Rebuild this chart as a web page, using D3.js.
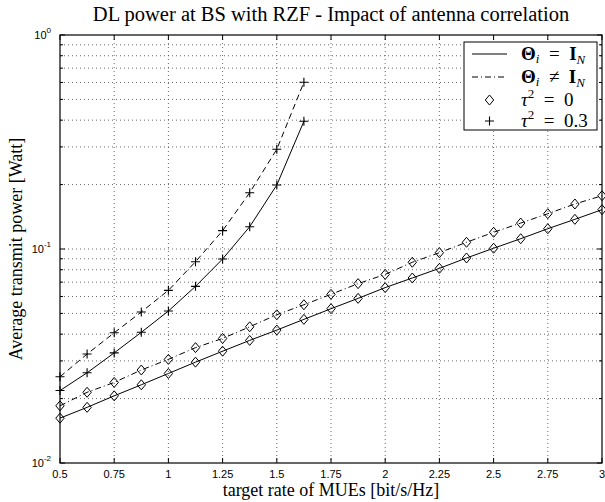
<!DOCTYPE html>
<html>
<head>
<meta charset="utf-8">
<script src="https://d3js.org/d3.v7.min.js"></script>
<style>
 body { margin: 0; background: #fff; }
 .tick-lbl { font-family: "Liberation Sans", Arial, sans-serif; font-size: 11px; fill: #000; }
 .serif { font-family: "Liberation Serif", "Times New Roman", serif; fill: #000; }
 .grid line { stroke: #444; stroke-width: 0.8; stroke-dasharray: 1,3; }
</style>
</head>
<body>
<script>
// target rates
var ratesAll = [0.5, 0.625, 0.75, 0.875, 1, 1.125, 1.25, 1.375, 1.5, 1.625, 1.75, 1.875,
                2, 2.125, 2.25, 2.375, 2.5, 2.625, 2.75, 2.875, 3];
var ratesShort = [0.5, 0.625, 0.75, 0.875, 1, 1.125, 1.25, 1.375, 1.5, 1.625];

// tau^2 = 0
var tau0Ident = [0.0162, 0.0182, 0.0206, 0.0232, 0.0262, 0.0296, 0.0333, 0.0374, 0.0418, 0.0469,
                 0.0526, 0.0588, 0.0660, 0.0732, 0.0812, 0.0908, 0.1008, 0.1117, 0.1244, 0.1376, 0.1527];
var tau0Corr  = [0.0185, 0.0214, 0.0238, 0.0272, 0.0305, 0.0346, 0.0382, 0.0433, 0.0493, 0.0549,
                 0.0614, 0.0689, 0.0761, 0.0867, 0.0961, 0.1075, 0.1197, 0.1322, 0.1462, 0.1623, 0.1774];
// tau^2 = 0.3
var tau3Ident = [0.0218, 0.0264, 0.0327, 0.0408, 0.0513, 0.0669, 0.0898, 0.1271, 0.1991, 0.3951];
var tau3Corr  = [0.0253, 0.0323, 0.0406, 0.0508, 0.0641, 0.0872, 0.1218, 0.1833, 0.2923, 0.6012];

var xTicks = [0.5, 0.75, 1, 1.25, 1.5, 1.75, 2, 2.25, 2.5, 2.75, 3];
var xTickLabels = ["0.5", "0.75", "1", "1.25", "1.5", "1.75", "2", "2.25", "2.5", "2.75", "3"];
var yMajor = [0.01, 0.1, 1];
var yExp = ["-2", "-1", "0"];

var width = 605, height = 502;
var pL = 60, pR = 602, pT = 35, pB = 463;

var x = d3.scaleLinear().domain([0.5, 3]).range([pL, pR]);
var y = d3.scaleLog().domain([0.01, 1]).range([pB, pT]);

var svg = d3.select('body').append('svg')
            .attr('width', width).attr('height', height);

var yMinor = [];
[0.01, 0.1].forEach(function (d) {
    for (var k = 2; k <= 9; k++) yMinor.push(d * k);
});

// grid
var grid = svg.append('g').attr('class', 'grid');
grid.selectAll('.gx').data(xTicks.slice(1, -1)).enter().append('line')
    .attr('x1', d => x(d)).attr('x2', d => x(d))
    .attr('y1', pT).attr('y2', pB);
grid.selectAll('.gy').data(yMinor.concat([0.1])).enter().append('line')
    .attr('y1', d => y(d)).attr('y2', d => y(d))
    .attr('x1', pL).attr('x2', pR);

// ticks (inside, on all sides)
var ticks = svg.append('g').attr('stroke', '#000').attr('stroke-width', 1);
xTicks.forEach(function (d) {
    ticks.append('line').attr('x1', x(d)).attr('x2', x(d)).attr('y1', pB).attr('y2', pB - 5);
    ticks.append('line').attr('x1', x(d)).attr('x2', x(d)).attr('y1', pT).attr('y2', pT + 5);
});
yMajor.forEach(function (d) {
    ticks.append('line').attr('y1', y(d)).attr('y2', y(d)).attr('x1', pL).attr('x2', pL + 5);
    ticks.append('line').attr('y1', y(d)).attr('y2', y(d)).attr('x1', pR).attr('x2', pR - 5);
});
yMinor.forEach(function (d) {
    ticks.append('line').attr('y1', y(d)).attr('y2', y(d)).attr('x1', pL).attr('x2', pL + 3);
    ticks.append('line').attr('y1', y(d)).attr('y2', y(d)).attr('x1', pR).attr('x2', pR - 3);
});

// tick labels
svg.selectAll('.xl').data(xTicks).enter().append('text')
   .attr('class', 'tick-lbl')
   .attr('x', d => x(d)).attr('y', pB + 15)
   .attr('text-anchor', 'middle')
   .text((d, i) => xTickLabels[i]);

yMajor.forEach(function (d, i) {
    var t = svg.append('text').attr('class', 'tick-lbl')
               .attr('x', pL - 9).attr('y', y(d) + 4)
               .attr('text-anchor', 'end');
    t.append('tspan').text('10');
    t.append('tspan').attr('dy', -6).attr('font-size', 8).text(yExp[i]);
});

// series
var series = [
    {x: ratesShort, y: tau3Corr, dash: '6,4', marker: 'plus'},
    {x: ratesShort, y: tau3Ident, dash: null, marker: 'plus'},
    {x: ratesAll, y: tau0Corr, dash: '6,3,1,3', marker: 'diamond'},
    {x: ratesAll, y: tau0Ident, dash: null, marker: 'diamond'}
];

var line = d3.line().x(d => x(d[0])).y(d => y(d[1]));

function drawMarker(g, kind, cx, cy) {
    if (kind === 'plus') {
        g.append('path')
         .attr('d', 'M' + (cx - 4.5) + ',' + cy + 'H' + (cx + 4.5) + 'M' + cx + ',' + (cy - 4.5) + 'V' + (cy + 4.5))
         .attr('stroke', '#000').attr('stroke-width', 1.1).attr('fill', 'none');
    } else {
        g.append('path')
         .attr('d', 'M' + cx + ',' + (cy - 5) + 'L' + (cx + 4.2) + ',' + cy + 'L' + cx + ',' + (cy + 5) + 'L' + (cx - 4.2) + ',' + cy + 'Z')
         .attr('stroke', '#000').attr('stroke-width', 1).attr('fill', 'none');
    }
}

series.forEach(function (s) {
    var pts = s.x.map((v, i) => [v, s.y[i]]);
    svg.append('path').datum(pts)
       .attr('d', line)
       .attr('fill', 'none').attr('stroke', '#000').attr('stroke-width', 1)
       .attr('stroke-dasharray', s.dash);
    var g = svg.append('g');
    pts.forEach(p => drawMarker(g, s.marker, x(p[0]), y(p[1])));
});

// axes box
svg.append('rect')
   .attr('x', pL).attr('y', pT)
   .attr('width', pR - pL).attr('height', pB - pT)
   .attr('fill', 'none').attr('stroke', '#000').attr('stroke-width', 1.2);

// legend
var lg = svg.append('g');
lg.append('rect').attr('x', 464).attr('y', 42).attr('width', 133).attr('height', 88)
  .attr('fill', '#fff').attr('stroke', '#000').attr('stroke-width', 1);

var legendRows = [
    {dash: null, marker: null},
    {dash: '6,3,1,3', marker: null},
    {dash: 'none', marker: 'diamond'},
    {dash: 'none', marker: 'plus'}
];
var rowY = [54, 77, 100, 121];
legendRows.forEach(function (r, i) {
    if (r.dash !== 'none') {
        lg.append('line').attr('x1', 472).attr('x2', 507).attr('y1', rowY[i]).attr('y2', rowY[i])
          .attr('stroke', '#000').attr('stroke-width', 1).attr('stroke-dasharray', r.dash);
    }
    if (r.marker) drawMarker(lg, r.marker, 489.5, rowY[i]);
});

function mathTheta(t, neq) {
    t.append('tspan').attr('font-weight', 'bold').text('Θ');
    t.append('tspan').attr('font-style', 'italic').attr('font-size', 13).attr('dy', 3).text('i');
    t.append('tspan').attr('dy', -3).text('  ' + (neq ? '≠' : '=') + '  ');
    t.append('tspan').attr('font-weight', 'bold').text('I');
    t.append('tspan').attr('font-style', 'italic').attr('font-size', 13).attr('dy', 4).text('N');
}
var t1 = lg.append('text').attr('class', 'serif').attr('font-size', 19).attr('x', 521).attr('y', rowY[0] + 6)
           .attr('xml:space', 'preserve').style('white-space', 'pre');
mathTheta(t1, false);
var t2 = lg.append('text').attr('class', 'serif').attr('font-size', 19).attr('x', 521).attr('y', rowY[1] + 6)
           .style('white-space', 'pre');
mathTheta(t2, true);
[['0', 2], ['0.3', 3]].forEach(function (v) {
    var t = lg.append('text').attr('class', 'serif').attr('font-size', 19)
              .attr('x', 521).attr('y', rowY[v[1]] + 6).style('white-space', 'pre');
    t.append('tspan').attr('font-style', 'italic').text('τ');
    t.append('tspan').attr('font-size', 13).attr('dy', -8).text('2');
    t.append('tspan').attr('dy', 8).text('  =  ' + v[0]);
});

// titles
svg.append('text').attr('class', 'serif').attr('font-size', 20.5)
   .attr('x', (pL + pR) / 2).attr('y', 21).attr('text-anchor', 'middle')
   .text('DL power at BS with RZF - Impact of antenna correlation');
svg.append('text').attr('class', 'serif').attr('font-size', 18)
   .attr('x', (pL + pR) / 2).attr('y', 496).attr('text-anchor', 'middle')
   .text('target rate of MUEs [bit/s/Hz]');
svg.append('text').attr('class', 'serif').attr('font-size', 18)
   .attr('transform', 'translate(22,' + ((pT + pB) / 2) + ') rotate(-90)')
   .attr('text-anchor', 'middle')
   .text('Average transmit power [Watt]');
</script>
</body>
</html>
